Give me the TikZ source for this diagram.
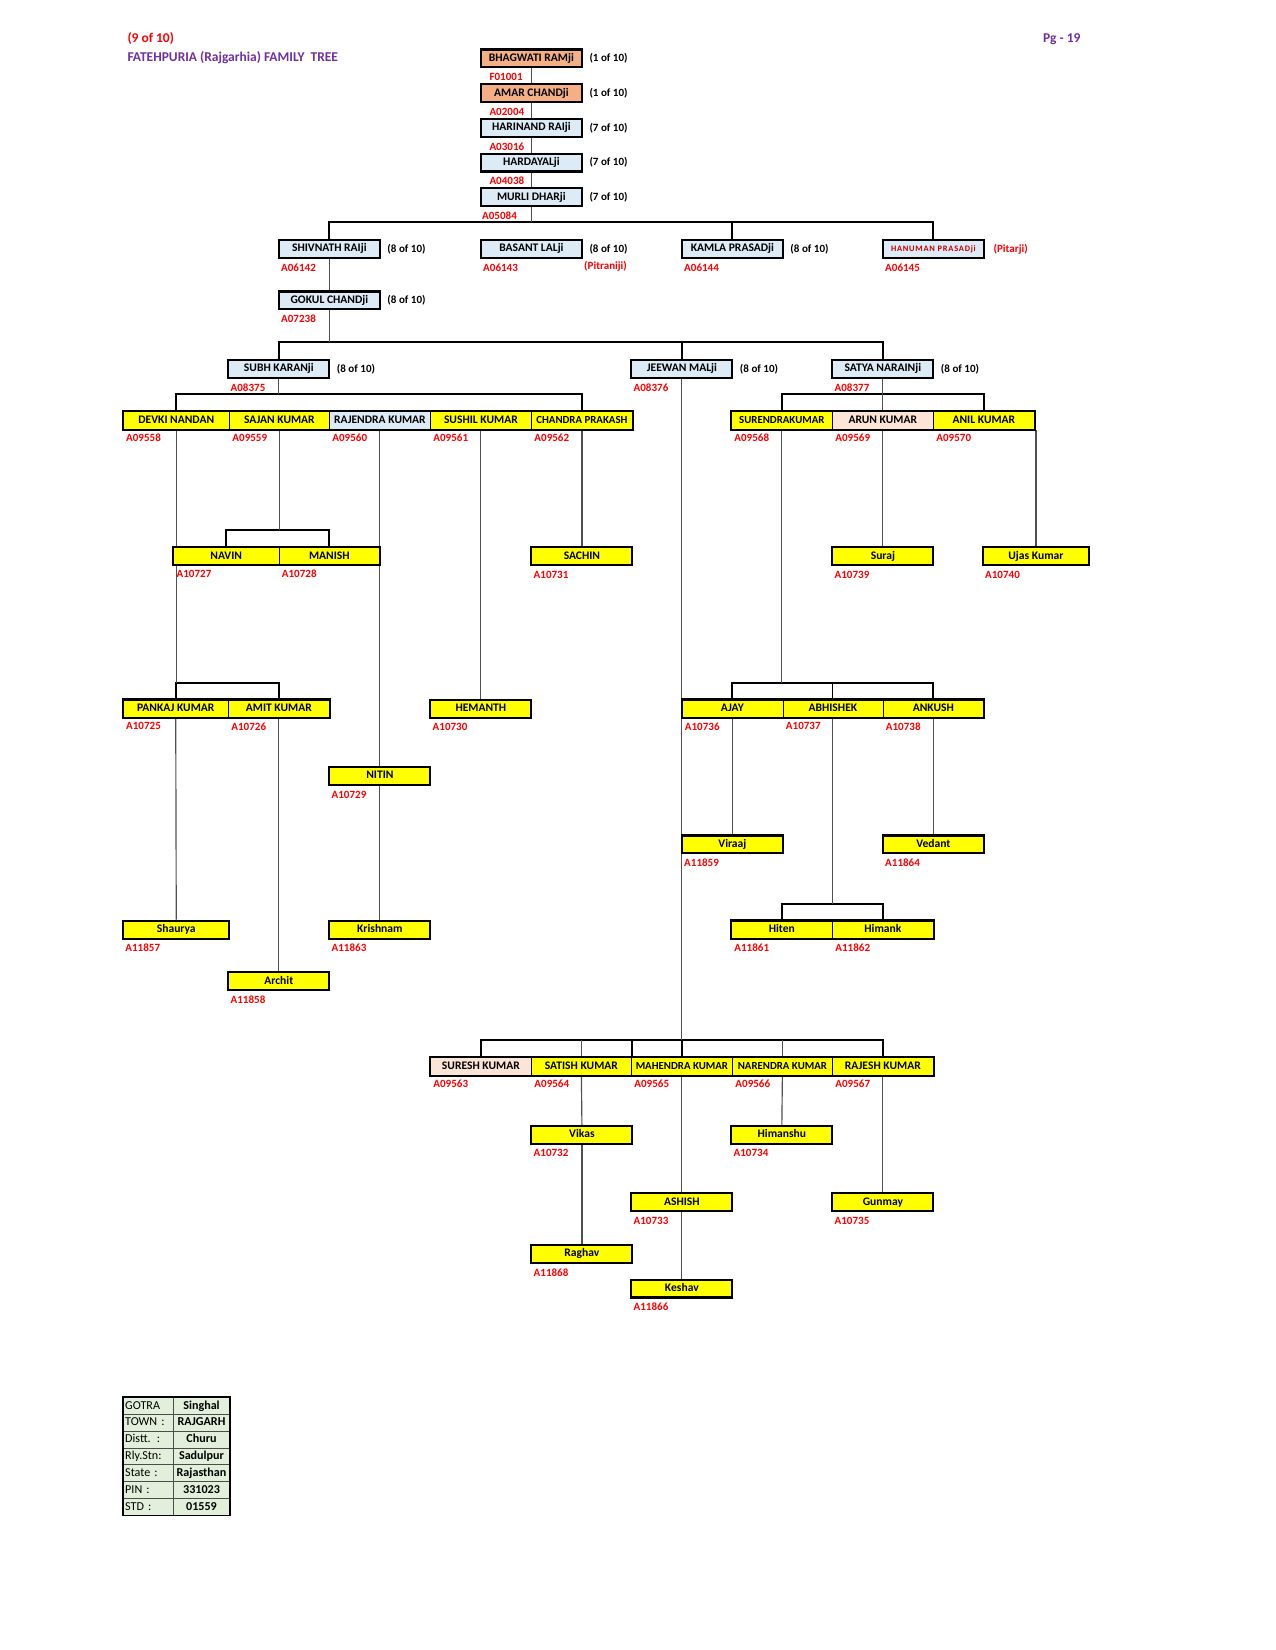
\documentclass[tikz,border=0pt]{standalone}
\usepackage{fontspec}
\setmainfont{Carlito}
\usetikzlibrary{backgrounds}
\definecolor{salmon}{HTML}{F4B084}
\definecolor{lblue}{HTML}{DDEBF7}
\definecolor{peach}{HTML}{FCE4D6}
\definecolor{yel}{HTML}{FFFF00}
\definecolor{tgreen}{HTML}{E2EFDA}
\definecolor{idred}{HTML}{FF0000}
\definecolor{dred}{HTML}{C00000}
\definecolor{purp}{HTML}{7030A0}
\definecolor{conngray}{HTML}{505050}
\newcommand{\mainf}{\bfseries\fontsize{11}{13}\selectfont}
\newcommand{\idf}{\bfseries\fontsize{10.5}{12}\selectfont}
\newcommand{\smallf}{\bfseries\fontsize{10.3}{12}\selectfont}
\newcommand{\headf}{\bfseries\fontsize{12.8}{15}\selectfont}
\tikzset{
  box/.style={draw=black, line width=2pt, minimum height=17pt, inner sep=0pt,
    text height=7.5pt, text depth=2pt, font=\mainf},
  cell/.style={draw=black, line width=0.6pt, minimum height=17pt, inner sep=0pt,
    text height=7.5pt, text depth=2pt, font=\mainf},
  idlab/.style={text=idred, font=\idf, anchor=west, inner sep=0pt},
  oflab/.style={text=black, font=\idf, anchor=west, inner sep=0pt},
  conn/.style={draw=conngray, line width=1.1pt},
  bus/.style={draw=black, line width=1.8pt},
  tl/.style={draw=black!70, line width=0.6pt, fill=tgreen, minimum height=16pt,
    text width=44pt, align=left, inner xsep=2pt, inner ysep=0pt,
    text height=8pt, text depth=2pt, font=\fontsize{11.5}{13}\selectfont},
  tr/.style={draw=black!70, line width=0.6pt, fill=tgreen, minimum height=16pt,
    minimum width=53pt, inner sep=0pt, text height=8pt, text depth=2pt,
    font=\bfseries\fontsize{11.5}{13}\selectfont}
}
% name, left, width, top, fill, text
\newcommand{\pb}[6]{\node[box, fill=#5, minimum width=#3pt] (#1) at ({#2+#3/2},{#4+8.5}) {#6};}
\newcommand{\pc}[6]{\node[cell, fill=#5, minimum width=#3pt] (#1) at ({#2+#3/2},{#4+8.5}) {#6};}
\newcommand{\pid}[2]{\node[idlab] (#1id) at ([xshift=3pt,yshift=-8pt]#1.south west) {#2};}
\newcommand{\pidc}[2]{\node[idlab] (#1id) at ([xshift=9pt,yshift=-8pt]#1.south west) {#2};}
\newcommand{\pof}[2]{\node[oflab] (#1of) at ([xshift=6pt]#1.east) {#2};}
\begin{document}
\begin{tikzpicture}[x=1pt,y=-1pt]
\useasboundingbox (0,0) rectangle (1212,1568);

% header
\node[anchor=west, inner sep=0pt, text=idred, font=\headf] (pgpart) at (121,37) {(9 of 10)};
\node[anchor=west, inner sep=0pt, text=purp, font=\headf] (title) at (121,55) {FATEHPURIA (Rajgarhia) FAMILY\ \ TREE};
\node[anchor=west, inner sep=0pt, text=purp, font=\headf] (pgno) at (991,37) {Pg - 19};

% top chain
\pb{bhag}{457}{96}{47}{salmon}{BHAGWATI RAMji} \pof{bhag}{(1 of 10)} \pidc{bhag}{F01001}
\pb{amar}{457}{96}{80}{salmon}{AMAR CHANDji} \pof{amar}{(1 of 10)} \pidc{amar}{A02004}
\pb{hari}{457}{96}{113}{lblue}{HARINAND RAIji} \pof{hari}{(7 of 10)} \pidc{hari}{A03016}
\pb{hard}{457}{96}{146}{lblue}{HARDAYALji} \pof{hard}{(7 of 10)} \pidc{hard}{A04038}
\pb{murli}{457}{96}{179}{lblue}{MURLI DHARji} \pof{murli}{(7 of 10)}
\node[idlab] (murliid) at ([xshift=2pt,yshift=-8pt]murli.south west) {A05084};

% generation 6
\pb{shiv}{265}{96}{228}{lblue}{SHIVNATH RAIji} \pof{shiv}{(8 of 10)} \pid{shiv}{A06142}
\pb{basant}{457}{96}{228}{lblue}{BASANT LALji} \pof{basant}{(8 of 10)} \pid{basant}{A06143}
\node[idlab] (pitrani) at (555,253) {(Pitraniji)};
\pb{kamla}{648}{96}{228}{lblue}{KAMLA PRASADji} \pof{kamla}{(8 of 10)} \pid{kamla}{A06144}
\pb{hanu}{839}{96}{228}{lblue}{\fontsize{8}{9}\selectfont\addfontfeature{LetterSpace=9}\color{dred}HANUMAN PRASADji}
\node[idlab] (hanuof) at ([xshift=8pt]hanu.east) {(Pitarji)};
\pid{hanu}{A06145}

% generation 7
\pb{gokul}{265}{96}{277}{lblue}{GOKUL CHANDji} \pof{gokul}{(8 of 10)} \pid{gokul}{A07238}

% generation 8
\pb{subh}{217}{96}{342}{lblue}{SUBH KARANji} \pof{subh}{(8 of 10)} \pid{subh}{A08375}
\pb{jeewan}{600}{96}{342}{lblue}{JEEWAN MALji} \pof{jeewan}{(8 of 10)} \pid{jeewan}{A08376}
\pb{satya}{791}{96}{342}{lblue}{SATYA NARAINji} \pof{satya}{(8 of 10)} \pid{satya}{A08377}

% generation 9 (Subh)
\pc{devki}{117}{101}{391}{yel}{DEVKI NANDAN} \pid{devki}{A09558}
\pc{sajan}{218}{95}{391}{yel}{SAJAN KUMAR} \pid{sajan}{A09559}
\pc{rajendra}{313}{96}{391}{lblue}{RAJENDRA KUMAR} \pid{rajendra}{A09560}
\pc{sushil}{409}{96}{391}{yel}{SUSHIL KUMAR} \pid{sushil}{A09561}
\pc{chandra}{505}{96}{391}{yel}{\smallf CHANDRA PRAKASH} \pid{chandra}{A09562}
\draw[line width=2pt] (devki.north west) rectangle (chandra.south east);
% generation 9 (Satya)
\pc{surendra}{695}{96}{391}{yel}{\smallf SURENDRAKUMAR} \pid{surendra}{A09568}
\pc{arun}{791}{96}{391}{peach}{ARUN KUMAR} \pid{arun}{A09569}
\pc{anil}{887}{96}{391}{yel}{ANIL KUMAR} \pid{anil}{A09570}
\draw[line width=2pt] (surendra.north west) rectangle (anil.south east);
% generation 9 (Jeewan)
\pc{suresh}{409}{96}{1005}{peach}{SURESH KUMAR} \pid{suresh}{A09563}
\pc{satish}{505}{95}{1005}{yel}{SATISH KUMAR} \pid{satish}{A09564}
\pc{mahendra}{600}{96}{1005}{yel}{\smallf MAHENDRA KUMAR} \pid{mahendra}{A09565}
\pc{narendra}{696}{95}{1005}{yel}{\smallf NARENDRA KUMAR} \pid{narendra}{A09566}
\pc{rajesh}{791}{96}{1005}{yel}{RAJESH KUMAR} \pid{rajesh}{A09567}
\draw[line width=2pt] (suresh.north west) rectangle (rajesh.south east);

% generation 10
\pc{navin}{165}{100}{520}{yel}{NAVIN} \pid{navin}{A10727}
\pc{manish}{265}{96}{520}{yel}{MANISH} \pid{manish}{A10728}
\draw[line width=2pt] (navin.north west) rectangle (manish.south east);
\pb{sachin}{505}{96}{520}{yel}{SACHIN} \pid{sachin}{A10731}
\pb{suraj}{791}{96}{520}{yel}{Suraj} \pid{suraj}{A10739}
\pb{ujas}{934}{101}{520}{yel}{Ujas Kumar} \pid{ujas}{A10740}

\pc{pankaj}{117}{100}{665}{yel}{PANKAJ KUMAR} \pid{pankaj}{A10725}
\pc{amit}{217}{96}{665}{yel}{AMIT KUMAR} \pid{amit}{A10726}
\draw[line width=2pt] (pankaj.north west) rectangle (amit.south east);
\pb{hemanth}{409}{96}{665}{yel}{HEMANTH} \pid{hemanth}{A10730}
\pc{ajay}{648}{96}{665}{yel}{AJAY} \pid{ajay}{A10736}
\pc{abhishek}{744}{95}{665}{yel}{ABHISHEK} \pid{abhishek}{A10737}
\pc{ankush}{839}{96}{665}{yel}{ANKUSH} \pid{ankush}{A10738}
\draw[line width=2pt] (ajay.north west) rectangle (ankush.south east);
\pb{nitin}{313}{96}{729}{yel}{NITIN} \pid{nitin}{A10729}

\pb{vikas}{505}{96}{1070}{yel}{Vikas} \pid{vikas}{A10732}
\pb{himanshu}{695}{96}{1070}{yel}{Himanshu} \pid{himanshu}{A10734}
\pb{ashish}{600}{96}{1134}{yel}{ASHISH} \pid{ashish}{A10733}
\pb{gunmay}{791}{96}{1134}{yel}{Gunmay} \pid{gunmay}{A10735}

% generation 11
\pb{viraaj}{648}{96}{794}{yel}{Viraaj} \pid{viraaj}{A11859}
\pb{vedant}{839}{96}{794}{yel}{Vedant} \pid{vedant}{A11864}
\pb{shaurya}{117}{101}{875}{yel}{Shaurya} \pid{shaurya}{A11857}
\pb{krishnam}{313}{96}{875}{yel}{Krishnam} \pid{krishnam}{A11863}
\pc{hiten}{695}{96}{875}{yel}{Hiten} \pid{hiten}{A11861}
\pc{himank}{791}{96}{875}{yel}{Himank} \pid{himank}{A11862}
\draw[line width=2pt] (hiten.north west) rectangle (himank.south east);
\pb{archit}{217}{96}{924}{yel}{Archit} \pid{archit}{A11858}
\pb{raghav}{505}{96}{1183}{yel}{Raghav} \pid{raghav}{A11868}
\pb{keshav}{600}{96}{1216}{yel}{Keshav} \pid{keshav}{A11866}

% info table
\foreach \i/\a/\b in {1/GOTRA/Singhal, 2/TOWN :/RAJGARH, 3/Distt. :/Churu, 4/Rly.Stn:/Sadulpur, 5/State :/Rajasthan, 6/PIN :/331023, 7/STD :/01559}{
  \node[tl] (tl\i) at (141,{1328+16*\i-8}) {\a};
  \node[tr] (tr\i) at (191.5,{1328+16*\i-8}) {\b};
}
\draw[line width=1.6pt] (tl1.north west) rectangle (tr7.south east);

% connectors
\begin{scope}[on background layer]
\fill[white] (0,0) rectangle (1212,1568);
\draw[conn] (bhag.south) -- (amar.north);
\draw[conn] (amar.south) -- (hari.north);
\draw[conn] (hari.south) -- (hard.north);
\draw[conn] (hard.south) -- (murli.north);
\draw[bus] (shiv.north) -- ++(0,-16) coordinate (bA) -| (hanu.north);
\draw[bus] (kamla.north) -- (kamla.north |- bA);
\draw[conn] (murli.south) -- (murli.south |- bA);
\draw[conn] (shiv.south) -- (gokul.north);
\draw[bus] (subh.north) -- ++(0,-16) coordinate (bB) -| (satya.north);
\draw[bus] (jeewan.north) -- (jeewan.north |- bB);
\draw[conn] (gokul.south) -- (gokul.south |- bB);
\draw[bus] (devki.north) -- ++(0,-16) coordinate (bC) -| (chandra.north);
\draw[conn] (subh.south) -- (subh.south |- bC);
\draw[bus] (surendra.north) -- ++(0,-16) coordinate (bD) -| (anil.north);
\draw[conn] (satya.south) -- (arun.north);
\draw[bus] (navin.north) -- ++(0,-16) coordinate (bE) -| (manish.north);
\draw[conn] (sajan.south) -- (sajan.south |- bE);
\draw[bus] (pankaj.north) -- ++(0,-16) coordinate (bF) -| (amit.north);
\draw[conn] (devki.south) -- (devki.south |- bF);
\draw[conn] (rajendra.south) -- (nitin.north);
\draw[conn] (sushil.south) -- (hemanth.north);
\draw[conn] (chandra.south) -- (sachin.north);
\draw[conn] (arun.south) -- (suraj.north);
\draw[conn] (ujas.north) -- (ujas.north |- anil.south);
\draw[bus] (ajay.north) -- ++(0,-16) coordinate (bG) -| (ankush.north);
\draw[line width=1pt] (abhishek.north) -- (abhishek.north |- bG);
\draw[conn] (surendra.south) -- (surendra.south |- bG);
\draw[conn] (nitin.south) -- (krishnam.north);
\draw[conn] (pankaj.south) -- (shaurya.north);
\draw[conn] (amit.south) -- (archit.north);
\draw[conn] (ajay.south) -- (viraaj.north);
\draw[conn] (ankush.south) -- (vedant.north);
\draw[bus] (hiten.north) -- ++(0,-16) coordinate (bH) -| (himank.north);
\draw[conn] (abhishek.south) -- (abhishek.south |- bH);
\draw[bus] (suresh.north) -- ++(0,-16) coordinate (bI) -| (rajesh.north);
\draw[bus] (satish.north east) -- (satish.north east |- bI);
\draw[bus] (mahendra.north) -- (mahendra.north |- bI);
\draw[conn] (satish.north) -- (satish.north |- bI);
\draw[conn] (narendra.north) -- (narendra.north |- bI);
\draw[conn] (jeewan.south) -- (jeewan.south |- bI);
\draw[conn] (satish.south) -- (vikas.north);
\draw[conn] (vikas.south) -- (raghav.north);
\draw[conn] (mahendra.south) -- (ashish.north);
\draw[conn] (ashish.south) -- (keshav.north);
\draw[conn] (narendra.south) -- (himanshu.north);
\draw[conn] (rajesh.south) -- (gunmay.north);
\end{scope}
\end{tikzpicture}
\end{document}
